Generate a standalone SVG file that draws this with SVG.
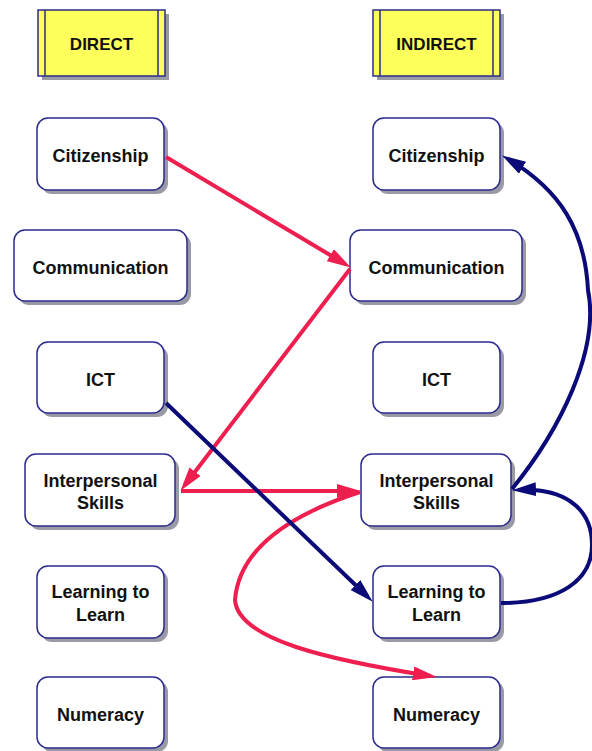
<svg xmlns="http://www.w3.org/2000/svg" width="592" height="751" viewBox="0 0 592 751">
<style>
.bg{fill:#ffffff}
.sh{fill:#9a9aa6}
.box{fill:#ffffff;stroke:#2b2b8c;stroke-width:1.5}
.hdr{fill:#ffff5c;stroke:#2b2b8c;stroke-width:1.5}
.bar{stroke:#2b2b8c;stroke-width:1.5}
.t{font-family:"Liberation Sans",Arial,sans-serif;font-weight:bold;font-size:18px;fill:#111111;text-anchor:middle}
.th{font-family:"Liberation Sans",Arial,sans-serif;font-weight:bold;font-size:17px;fill:#111111;text-anchor:middle}
.red{fill:none;stroke:#ee1f4f;stroke-width:4;marker-end:url(#arR)}
.navy{fill:none;stroke:#0a0a78;stroke-width:4;marker-end:url(#arN)}
</style>
<defs>
<marker id="arR" markerUnits="userSpaceOnUse" markerWidth="24" markerHeight="14" refX="17" refY="7" orient="auto"><path d="M0,0 L24,7 L0,14 z" fill="#ee1f4f"/></marker>
<marker id="arN" markerUnits="userSpaceOnUse" markerWidth="24" markerHeight="14" refX="17" refY="7" orient="auto"><path d="M0,0 L24,7 L0,14 z" fill="#0a0a78"/></marker>
</defs>
<rect class="bg" x="0" y="0" width="592" height="751"/>

<g id="hdr-direct">
<rect class="sh" x="42" y="14" width="127" height="66"/>
<rect class="hdr" x="38" y="10" width="127" height="66"/>
<line class="bar" x1="45" y1="10" x2="45" y2="76"/>
<line class="bar" x1="158" y1="10" x2="158" y2="76"/>
<text class="th" x="101.5" y="50">DIRECT</text>
</g>
<g id="hdr-indirect">
<rect class="sh" x="377" y="14" width="127" height="66"/>
<rect class="hdr" x="373" y="10" width="127" height="66"/>
<line class="bar" x1="380" y1="10" x2="380" y2="76"/>
<line class="bar" x1="493" y1="10" x2="493" y2="76"/>
<text class="th" x="436.5" y="50">INDIRECT</text>
</g>

<g id="d-citizenship">
<rect class="sh" x="41" y="122" width="127" height="72" rx="11"/>
<rect class="box" x="37" y="118" width="127" height="72" rx="11"/>
<text class="t" x="100.5" y="162">Citizenship</text>
</g>
<g id="d-communication">
<rect class="sh" x="18" y="234" width="173" height="71" rx="11"/>
<rect class="box" x="14" y="230" width="173" height="71" rx="11"/>
<text class="t" x="100.5" y="274">Communication</text>
</g>
<g id="d-ict">
<rect class="sh" x="41" y="346" width="127" height="71" rx="11"/>
<rect class="box" x="37" y="342" width="127" height="71" rx="11"/>
<text class="t" x="100.5" y="386">ICT</text>
</g>
<g id="d-interpersonal">
<rect class="sh" x="29" y="458" width="150" height="72" rx="11"/>
<rect class="box" x="25" y="454" width="150" height="72" rx="11"/>
<text class="t" x="100.5" y="487">Interpersonal</text>
<text class="t" x="100.5" y="509">Skills</text>
</g>
<g id="d-learning">
<rect class="sh" x="41" y="570" width="127" height="72" rx="11"/>
<rect class="box" x="37" y="566" width="127" height="72" rx="11"/>
<text class="t" x="100.5" y="598">Learning to</text>
<text class="t" x="100.5" y="621">Learn</text>
</g>
<g id="d-numeracy">
<rect class="sh" x="41" y="681" width="127" height="71" rx="11"/>
<rect class="box" x="37" y="677" width="127" height="71" rx="11"/>
<text class="t" x="100.5" y="721">Numeracy</text>
</g>

<g id="i-citizenship">
<rect class="sh" x="377" y="122" width="127" height="72" rx="11"/>
<rect class="box" x="373" y="118" width="127" height="72" rx="11"/>
<text class="t" x="436.5" y="162">Citizenship</text>
</g>
<g id="i-communication">
<rect class="sh" x="354" y="234" width="172" height="71" rx="11"/>
<rect class="box" x="350" y="230" width="172" height="71" rx="11"/>
<text class="t" x="436.5" y="274">Communication</text>
</g>
<g id="i-ict">
<rect class="sh" x="377" y="346" width="127" height="71" rx="11"/>
<rect class="box" x="373" y="342" width="127" height="71" rx="11"/>
<text class="t" x="436.5" y="386">ICT</text>
</g>
<g id="i-interpersonal">
<rect class="sh" x="365" y="458" width="150" height="72" rx="11"/>
<rect class="box" x="361" y="454" width="150" height="72" rx="11"/>
<text class="t" x="436.5" y="487">Interpersonal</text>
<text class="t" x="436.5" y="509">Skills</text>
</g>
<g id="i-learning">
<rect class="sh" x="377" y="570" width="127" height="72" rx="11"/>
<rect class="box" x="373" y="566" width="127" height="72" rx="11"/>
<text class="t" x="436.5" y="598">Learning to</text>
<text class="t" x="436.5" y="621">Learn</text>
</g>
<g id="i-numeracy">
<rect class="sh" x="377" y="681" width="127" height="71" rx="11"/>
<rect class="box" x="373" y="677" width="127" height="71" rx="11"/>
<text class="t" x="436.5" y="721">Numeracy</text>
</g>

<g id="connectors">
<path class="red" d="M166,157 L344.9,263.9"/>
<path class="red" d="M350,269 L184.7,485.2"/>
<path class="red" d="M181,491 L354,491"/>
<path class="red" d="M360,492 C320,505 240,535 235,600 C238,640 330,660 430,676"/>
<path class="navy" d="M166,403 L367.7,596.8"/>
<path class="navy" d="M501,603 C560,603 592,580 592,545 C592,505 560,488 519,490"/>
<path class="navy" d="M512,489 C560,430 600,350 588,290 C585,230 560,190 508,159"/>
</g>
</svg>
